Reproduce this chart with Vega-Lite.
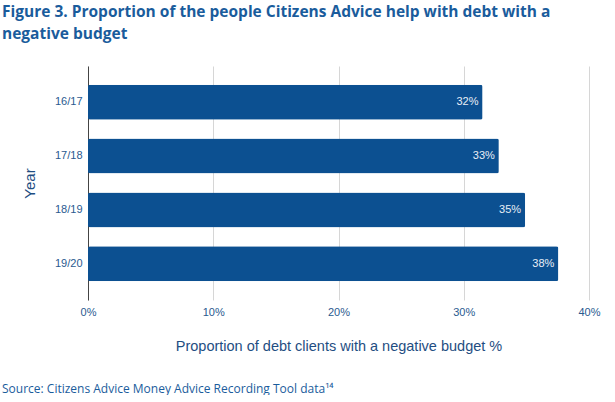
{
  "$schema": "https://vega.github.io/schema/vega-lite/v6.json",
  "padding": {"left": 2, "top": 4, "right": 0, "bottom": 0},
  "background": "white",
  "title": {
    "text": ["Figure 3. Proportion of the people Citizens Advice help with debt with a", "negative budget"],
    "anchor": "start",
    "frame": "group",
    "font": "Open Sans",
    "fontSize": 15.5,
    "fontWeight": "bold",
    "lineHeight": 22,
    "color": "#1a5c9c",
    "offset": 24,
    "dx": -86
  },
  "data": {
    "values": [
      {"year": "16/17", "pct": 31.5, "label": "32%"},
      {"year": "17/18", "pct": 32.8, "label": "33%"},
      {"year": "18/19", "pct": 34.9, "label": "35%"},
      {"year": "19/20", "pct": 37.55, "label": "38%"}
    ]
  },
  "vconcat": [
    {
      "width": 501,
      "height": 234,
      "title": {
        "text": "Source: Citizens Advice Money Advice Recording Tool data¹⁴",
        "orient": "bottom",
        "anchor": "start",
        "frame": "group",
        "font": "Open Sans",
        "fontSize": 12,
        "fontWeight": "normal",
        "color": "#1a5c9c",
        "offset": 31,
        "dx": -86
      },
      "encoding": {
        "y": {
          "field": "year",
          "type": "nominal",
          "sort": null,
          "scale": {"paddingInner": 0.35, "paddingOuter": 0.35},
          "axis": {
            "title": "Year",
            "titleFont": "Liberation Sans",
            "titleFontSize": 15,
            "titleFontWeight": "normal",
            "titleColor": "#1f4e82",
            "titlePadding": 17,
            "labelFont": "Liberation Sans",
            "labelFontSize": 11,
            "labelColor": "#2a5a8f",
            "labelPadding": 6,
            "ticks": false,
            "domainColor": "#444444",
            "domainWidth": 1,
            "grid": false
          }
        }
      },
      "layer": [
        {
          "mark": {"type": "bar", "color": "#0c5091", "cornerRadius": 2},
          "encoding": {
            "x": {
              "field": "pct",
              "type": "quantitative",
              "scale": {"domain": [0, 40], "nice": false},
              "axis": {
                "title": "Proportion of debt clients with a negative budget %",
                "titleFont": "Liberation Sans",
                "titleFontSize": 14.5,
                "titleFontWeight": "normal",
                "titleColor": "#1f4e82",
                "titlePadding": 22,
                "values": [0, 10, 20, 30, 40],
                "labelExpr": "datum.value + '%'",
                "labelFont": "Liberation Sans",
                "labelFontSize": 11,
                "labelColor": "#2a5a8f",
                "labelPadding": 6,
                "labelFlush": false,
                "ticks": false,
                "domain": false,
                "grid": true,
                "gridColor": "#d6d6d6",
                "gridWidth": 1
              }
            }
          }
        },
        {
          "mark": {"type": "text", "align": "right", "dx": -4, "color": "#e8eef6", "font": "Liberation Sans", "fontSize": 11},
          "encoding": {
            "x": {"field": "pct", "type": "quantitative"},
            "text": {"field": "label"}
          }
        }
      ]
    }
  ],
  "config": {
    "view": {"stroke": null},
    "concat": {"spacing": 0}
  }
}
